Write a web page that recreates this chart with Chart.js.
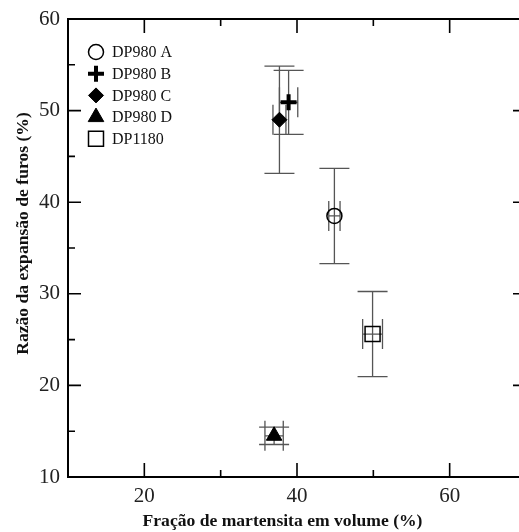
<!DOCTYPE html>
<html>
<head>
<meta charset="utf-8">
<script src="https://cdn.jsdelivr.net/npm/chart.js@4"></script>
<style>
  html, body { margin: 0; padding: 0; background: #fff; overflow: hidden; }
  #wrap { width: 519px; height: 532px; overflow: hidden; position: relative; }
  #myChart { position: absolute; left: 0; top: 0; }
</style>
</head>
<body>
<div id="wrap"><canvas id="myChart" width="530" height="532"></canvas></div>
<script>
// data
const labels = ['DP980 A', 'DP980 B', 'DP980 C', 'DP980 D', 'DP1180'];
const martensite = [44.9, 38.9, 37.7, 37.0, 49.9];
const martensiteErr = [0.74, 1.2, 0.85, 1.2, 1.3];
const holeExpansion = [38.5, 50.9, 49.0, 14.5, 25.6];
const holeExpansionErr = [5.2, 3.5, 5.85, 0.95, 4.65];

const xTicks = [20, 40, 60];
const xMinorTicks = [30, 50];
const yTicks = [10, 20, 30, 40, 50, 60];
const yMinorTicks = [15, 25, 35, 45, 55];

const xTitle = 'Fração de martensita em volume (%)';
const yTitle = 'Razão da expansão de furos (%)';

// marker look for each series
const markers = [
  { style: 'circle', radius: 7.5, fill: 'rgba(0,0,0,0)', border: 1.5 },
  { style: 'cross', radius: 8, fill: '#000', border: 4 },
  { style: 'rectRot', radius: 7.5, fill: '#000', border: 1 },
  { style: 'triangle', radius: 9, fill: '#000', border: 1 },
  { style: 'rect', radius: 10.6, fill: 'rgba(0,0,0,0)', border: 1.5 }
];

const serif = 'Liberation Serif, Times New Roman, serif';

const datasets = labels.map((name, i) => ({
  label: name,
  data: [{ x: martensite[i], y: holeExpansion[i], xErr: martensiteErr[i], yErr: holeExpansionErr[i] }],
  pointStyle: markers[i].style,
  pointRadius: markers[i].radius,
  pointHoverRadius: markers[i].radius,
  pointBackgroundColor: markers[i].fill,
  pointBorderColor: '#000',
  pointBorderWidth: markers[i].border,
  showLine: false
}));

// error bars under the markers
const errorBars = {
  id: 'errorBars',
  beforeDatasetsDraw(chart) {
    const { ctx, scales: { x, y } } = chart;
    const cap = 15;
    ctx.save();
    ctx.strokeStyle = '#555';
    ctx.lineWidth = 1.3;
    chart.data.datasets.forEach(ds => {
      ds.data.forEach(p => {
        const cx = x.getPixelForValue(p.x), cy = y.getPixelForValue(p.y);
        const y1 = y.getPixelForValue(p.y + p.yErr), y2 = y.getPixelForValue(p.y - p.yErr);
        const x1 = x.getPixelForValue(p.x - p.xErr), x2 = x.getPixelForValue(p.x + p.xErr);
        ctx.beginPath();
        ctx.moveTo(cx, y1); ctx.lineTo(cx, y2);
        ctx.moveTo(cx - cap, y1); ctx.lineTo(cx + cap, y1);
        ctx.moveTo(cx - cap, y2); ctx.lineTo(cx + cap, y2);
        ctx.moveTo(x1, cy); ctx.lineTo(x2, cy);
        ctx.moveTo(x1, cy - cap); ctx.lineTo(x1, cy + cap);
        ctx.moveTo(x2, cy - cap); ctx.lineTo(x2, cy + cap);
        ctx.stroke();
      });
    });
    ctx.restore();
  }
};

// box frame, inward ticks, legend and axis titles
const frame = {
  id: 'frame',
  afterDraw(chart) {
    const { ctx, chartArea: a, scales: { x, y } } = chart;
    ctx.save();
    ctx.strokeStyle = '#000';
    ctx.lineWidth = 2;
    ctx.beginPath();
    ctx.moveTo(a.left, a.top); ctx.lineTo(a.right, a.top); ctx.lineTo(a.right, a.bottom);
    ctx.stroke();

    ctx.lineWidth = 1.6;
    ctx.beginPath();
    const tickX = (v, len) => {
      const px = x.getPixelForValue(v);
      ctx.moveTo(px, a.bottom); ctx.lineTo(px, a.bottom - len);
      ctx.moveTo(px, a.top); ctx.lineTo(px, a.top + len);
    };
    const tickY = (v, len) => {
      const py = y.getPixelForValue(v);
      ctx.moveTo(a.left, py); ctx.lineTo(a.left + len, py);
      ctx.moveTo(a.right, py); ctx.lineTo(a.right - len, py);
    };
    xTicks.forEach(v => tickX(v, 14));
    xMinorTicks.forEach(v => tickX(v, 7));
    yTicks.forEach(v => tickY(v, 13));
    yMinorTicks.forEach(v => tickY(v, 7));
    ctx.stroke();

    // legend inside the plot
    ctx.font = '16px ' + serif;
    ctx.textBaseline = 'middle';
    ctx.textAlign = 'left';
    chart.data.datasets.forEach((ds, i) => {
      const ly = 52 + i * 21.7;
      ctx.fillStyle = ds.pointBackgroundColor;
      ctx.strokeStyle = '#000';
      ctx.lineWidth = ds.pointBorderWidth;
      Chart.helpers.drawPoint(ctx, {
        pointStyle: ds.pointStyle, radius: ds.pointRadius, rotation: 0, borderWidth: ds.pointBorderWidth
      }, 96, ly);
      ctx.fillStyle = '#111';
      ctx.fillText(ds.label, 112, ly + 1);
    });

    // axis titles
    ctx.fillStyle = '#111';
    ctx.font = 'bold 17.6px ' + serif;
    ctx.textAlign = 'center';
    ctx.fillText(xTitle, 282.5, 521);
    ctx.translate(23, 233.5);
    ctx.rotate(-Math.PI / 2);
    ctx.fillText(yTitle, 0, 0);
    ctx.restore();
  }
};

const ctx = document.getElementById('myChart').getContext('2d');
const chart = new Chart(ctx, {
  type: 'scatter',
  data: { datasets: datasets },
  options: {
    responsive: false,
    animation: false,
    layout: { autoPadding: false, padding: { top: 19, right: 4, left: 0, bottom: 0 } },
    plugins: { legend: { display: false }, tooltip: { enabled: false } },
    scales: {
      x: {
        type: 'linear',
        min: 10,
        max: 70,
        grid: { display: false, drawTicks: false },
        border: { display: true, color: '#000', width: 2 },
        ticks: { font: { family: serif, size: 21 }, color: '#222', padding: 7 },
        afterBuildTicks: s => { s.ticks = xTicks.map(v => ({ value: v })); },
        afterFit: s => { s.height = 55; s.paddingLeft = 0; s.paddingRight = 0; }
      },
      y: {
        type: 'linear',
        min: 10,
        max: 60,
        grid: { display: false, drawTicks: false },
        border: { display: true, color: '#000', width: 2 },
        ticks: { font: { family: serif, size: 21 }, color: '#222', padding: 8 },
        afterBuildTicks: s => { s.ticks = yTicks.map(v => ({ value: v })); },
        afterFit: s => { s.width = 68; s.paddingTop = 0; s.paddingBottom = 0; }
      }
    }
  },
  plugins: [errorBars, frame]
});
</script>
</body>
</html>
